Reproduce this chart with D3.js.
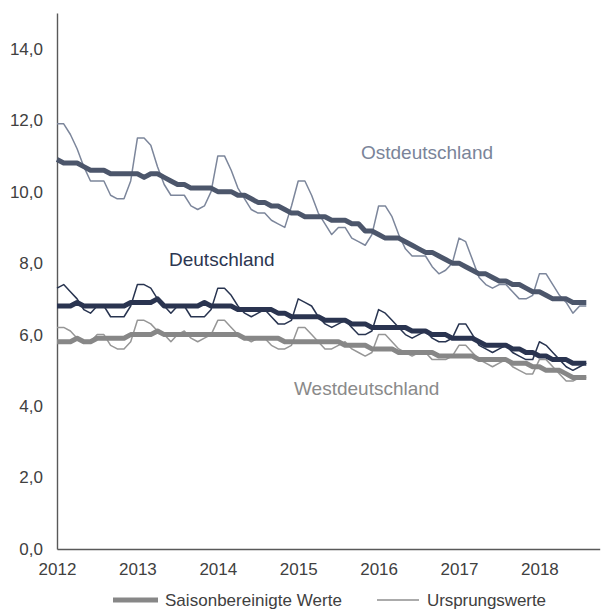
<!DOCTYPE html>
<html><head><meta charset="utf-8">
<script src="https://cdn.jsdelivr.net/npm/d3@7"></script>
<style>body{margin:0;background:#fff}svg{display:block}text{font-family:"Liberation Sans",Arial,sans-serif}</style>
</head><body><svg id="c" width="603" height="613"></svg>
<script>
const startYear = 2012;
const yearTicks = [2012, 2013, 2014, 2015, 2016, 2017, 2018];
const yTicks = [0, 2, 4, 6, 8, 10, 12, 14];
const seriesNames = ["Ostdeutschland", "Deutschland", "Westdeutschland"];
const legendLabels = ["Saisonbereinigte Werte", "Ursprungswerte"];

// Monthly values Jan 2012 - Aug 2018
const ostSA = [10.9,10.8,10.8,10.8,10.7,10.6,10.6,10.6,10.5,10.5,10.5,10.5,
  10.5,10.4,10.5,10.5,10.4,10.3,10.2,10.2,10.1,10.1,10.1,10.1,
  10.0,10.0,10.0,9.9,9.9,9.8,9.7,9.7,9.6,9.6,9.5,9.4,
  9.4,9.3,9.3,9.3,9.3,9.2,9.2,9.2,9.1,9.1,8.9,8.9,
  8.8,8.7,8.7,8.7,8.6,8.5,8.4,8.3,8.3,8.2,8.1,8.0,
  8.0,7.9,7.8,7.7,7.7,7.6,7.5,7.5,7.4,7.4,7.3,7.2,
  7.2,7.1,7.0,7.0,7.0,6.9,6.9,6.9];
const ostOrig = [11.9,11.9,11.6,11.2,10.7,10.3,10.3,10.3,9.9,9.8,9.8,10.3,
  11.5,11.5,11.3,10.7,10.2,9.9,9.9,9.9,9.6,9.5,9.6,10.0,
  11.0,11.0,10.6,10.1,9.8,9.5,9.4,9.4,9.2,9.1,9.0,9.6,
  10.3,10.3,9.9,9.4,9.1,8.8,9.0,9.0,8.7,8.6,8.5,8.8,
  9.6,9.6,9.3,8.8,8.4,8.2,8.2,8.2,7.9,7.7,7.8,8.0,
  8.7,8.6,8.1,7.6,7.4,7.3,7.4,7.4,7.2,7.0,7.0,7.1,
  7.7,7.7,7.4,7.1,6.9,6.6,6.8,6.8];
const deSA = [6.8,6.8,6.8,6.9,6.8,6.8,6.8,6.8,6.8,6.8,6.8,6.9,
  6.9,6.9,6.9,7.0,6.8,6.8,6.8,6.8,6.8,6.8,6.9,6.8,
  6.8,6.8,6.8,6.7,6.7,6.7,6.7,6.7,6.7,6.6,6.6,6.5,
  6.5,6.5,6.5,6.5,6.4,6.4,6.4,6.4,6.3,6.3,6.3,6.2,
  6.2,6.2,6.2,6.2,6.2,6.1,6.1,6.1,6.0,6.0,6.0,5.9,
  5.9,5.9,5.9,5.8,5.7,5.7,5.7,5.7,5.6,5.6,5.5,5.5,
  5.4,5.4,5.3,5.3,5.3,5.2,5.2,5.2];
const deOrig = [7.3,7.4,7.2,7.0,6.7,6.6,6.8,6.8,6.5,6.5,6.5,6.8,
  7.4,7.4,7.3,7.0,6.8,6.6,6.8,6.8,6.5,6.5,6.5,6.7,
  7.3,7.3,7.1,6.8,6.6,6.5,6.6,6.7,6.5,6.3,6.3,6.4,
  7.0,6.9,6.8,6.5,6.3,6.2,6.3,6.4,6.2,6.0,6.0,6.1,
  6.7,6.6,6.4,6.2,6.0,5.9,6.0,6.1,5.9,5.8,5.8,5.9,
  6.3,6.3,6.0,5.7,5.6,5.5,5.6,5.7,5.5,5.4,5.3,5.3,
  5.8,5.7,5.5,5.3,5.1,5.0,5.1,5.2];
const westSA = [5.8,5.8,5.8,5.9,5.8,5.8,5.9,5.9,5.9,5.9,5.9,6.0,
  6.0,6.0,6.0,6.1,6.0,6.0,6.0,6.0,6.0,6.0,6.0,6.0,
  6.0,6.0,6.0,6.0,5.9,5.9,5.9,5.9,5.9,5.9,5.8,5.8,
  5.8,5.8,5.8,5.8,5.8,5.8,5.8,5.7,5.7,5.7,5.7,5.6,
  5.6,5.6,5.6,5.5,5.5,5.5,5.5,5.5,5.5,5.4,5.4,5.4,
  5.4,5.4,5.4,5.3,5.3,5.3,5.3,5.3,5.2,5.2,5.2,5.1,
  5.1,5.0,5.0,5.0,4.9,4.8,4.8,4.8];
const westOrig = [6.2,6.2,6.1,5.9,5.8,5.8,6.0,6.0,5.7,5.6,5.6,5.8,
  6.4,6.4,6.3,6.1,6.0,5.8,6.0,6.1,5.9,5.8,5.9,6.0,
  6.4,6.4,6.2,6.0,5.9,5.8,5.9,5.9,5.7,5.6,5.6,5.7,
  6.2,6.2,6.0,5.8,5.6,5.6,5.7,5.8,5.6,5.5,5.4,5.5,
  6.0,6.0,5.8,5.6,5.5,5.4,5.5,5.5,5.3,5.3,5.3,5.4,
  5.7,5.7,5.5,5.3,5.2,5.1,5.2,5.3,5.1,5.0,4.9,4.9,
  5.3,5.3,5.1,4.9,4.7,4.7,4.8,4.8];

const svg = d3.select("#c");
const x = d3.scaleLinear().domain([2012, 2018.75]).range([57, 599.7]);
const y = d3.scaleLinear().domain([0, 15]).range([549, 13]);
const fmt = d => d.toFixed(1).replace(".", ",");

const yAx = svg.append("g").attr("transform", "translate(57,0)")
  .call(d3.axisLeft(y).tickValues(yTicks).tickSize(0).tickSizeOuter(0).tickPadding(14).tickFormat(fmt));
const xAx = svg.append("g").attr("transform", "translate(0,549)")
  .call(d3.axisBottom(x).tickValues(yearTicks).tickSize(0).tickSizeOuter(0).tickPadding(14).tickFormat(d3.format("d")));
[yAx, xAx].forEach(g => {
  g.select(".domain").attr("stroke", "#595959").attr("stroke-width", 1.4);
  g.selectAll("text").attr("fill", "#404040").style("font-size", "17px").style("font-family", '"Liberation Sans",Arial,sans-serif');
});

const line = d3.line().x((d, i) => x(startYear + i / 12)).y(d => y(d)).curve(d3.curveLinear);
const series = [
  {v: ostOrig, c: "#7c869b", w: 1.5},
  {v: westOrig, c: "#969696", w: 1.5},
  {v: deOrig, c: "#283450", w: 1.5},
  {v: ostSA, c: "#4c566b", w: 5},
  {v: westSA, c: "#878787", w: 5},
  {v: deSA, c: "#2a3450", w: 5}
];
series.forEach(s => {
  svg.append("path").datum(s.v).attr("d", line).attr("fill", "none")
    .attr("stroke", s.c).attr("stroke-width", s.w).attr("stroke-linejoin", "round");
});

const labels = [
  {t: seriesNames[0], x: 361, y: 159, c: "#7a8499"},
  {t: seriesNames[1], x: 169, y: 266, c: "#2c3651"},
  {t: seriesNames[2], x: 294, y: 395, c: "#8a8a8a"}
];
labels.forEach(l => svg.append("text").attr("x", l.x).attr("y", l.y).attr("fill", l.c)
  .style("font-size", "19px").text(l.t));

// legend
const lg = svg.append("g");
lg.append("line").attr("x1", 113).attr("x2", 158).attr("y1", 600).attr("y2", 600)
  .attr("stroke", "#878787").attr("stroke-width", 5);
lg.append("text").attr("x", 165).attr("y", 606).attr("fill", "#404040").style("font-size", "17px")
  .attr("textLength", 177).text(legendLabels[0]);
lg.append("line").attr("x1", 377).attr("x2", 419).attr("y1", 600).attr("y2", 600)
  .attr("stroke", "#595959").attr("stroke-width", 1.2);
lg.append("text").attr("x", 427).attr("y", 606).attr("fill", "#404040").style("font-size", "17px")
  .attr("textLength", 119).text(legendLabels[1]);
</script></body></html>
